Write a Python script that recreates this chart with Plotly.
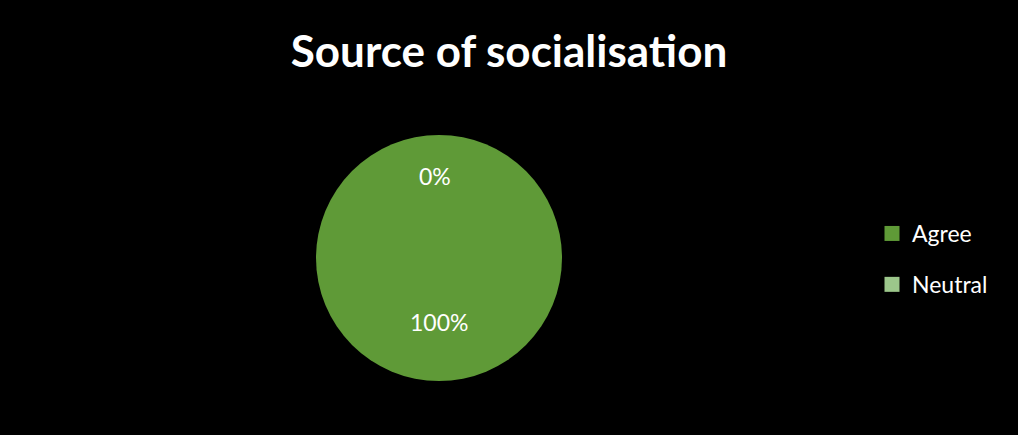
import plotly.graph_objects as go

categories = ["Agree", "Neutral"]
values = [100, 0]
colors = ["#5F9A37", "#9CC78B"]
title_text = "Source of socialisation"

total = sum(values)
pct_labels = [f"{v / total:.0%}" for v in values]

W, H = 1018, 435
cx, cy, r = 439, 258, 123
FONT = "Lato, Open Sans, sans-serif"

fig = go.Figure()
fig.add_trace(
    go.Pie(
        labels=categories,
        values=values,
        marker=dict(colors=colors, line=dict(width=0)),
        textinfo="none",
        sort=False,
        direction="clockwise",
        hoverinfo="label+percent",
        domain=dict(x=[(cx - r) / W, (cx + r) / W], y=[1 - (cy + r) / H, 1 - (cy - r) / H]),
        showlegend=False,
    )
)

# legend entries (one per category) with spacing between them
for cat, col in zip(categories, colors):
    fig.add_trace(
        go.Scatter(
            x=[None], y=[None], mode="markers", name=cat,
            marker=dict(symbol="square", size=15, color=col),
            legendgroup=cat, showlegend=True, hoverinfo="skip",
        )
    )

# percentage labels (Excel-style placement: 100% lower, 0% upper)
label_pos = [(439, 322), (435, 176)]
for txt, (lx, ly) in zip(pct_labels, label_pos):
    fig.add_annotation(
        x=lx / W, y=1 - ly / H, xref="paper", yref="paper",
        xanchor="center", yanchor="middle",
        text=txt, showarrow=False,
        font=dict(family=FONT, size=23, color="white"),
    )

fig.update_layout(
    width=W, height=H,
    paper_bgcolor="black", plot_bgcolor="black",
    margin=dict(l=0, r=0, t=0, b=0),
    xaxis=dict(visible=False), yaxis=dict(visible=False),
    title=dict(
        text=f"<b>{title_text}</b>",
        x=0.5, xanchor="center", y=1 - 52 / H, yanchor="middle",
        font=dict(family=FONT, size=44, color="white"),
    ),
    legend=dict(
        x=872 / W, xanchor="left", y=1 - 259 / H, yanchor="middle",
        font=dict(family=FONT, size=23, color="white"),
        bgcolor="rgba(0,0,0,0)",
        tracegroupgap=18,
        itemwidth=30,
    ),
)

fig.write_html(
    "out.html",
    config={"displayModeBar": False},
    post_script="document.body.style.margin='0';document.body.style.background='black';",
)
